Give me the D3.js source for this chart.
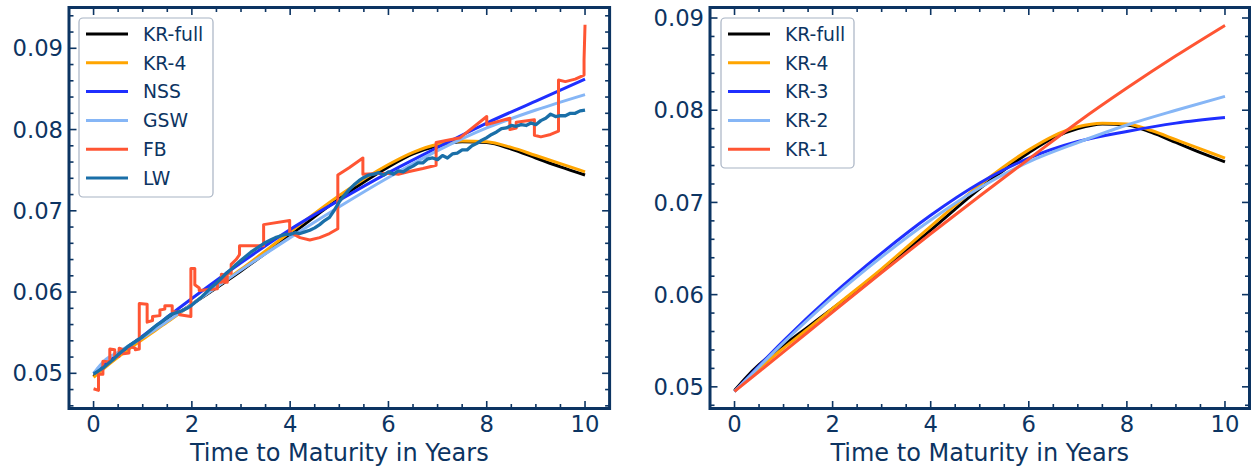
<!DOCTYPE html>
<html><head><meta charset="utf-8">
<script src="https://cdn.jsdelivr.net/npm/d3@7/dist/d3.min.js"></script>
<style>body{margin:0;background:#fff}svg{display:block;font-family:"DejaVu Sans",sans-serif}</style>
</head><body><svg id="c" width="1251" height="469"></svg>
<script>
// ---------- data ----------
const xTicks = [0, 2, 4, 6, 8, 10];
const yTicksLeft = [0.05, 0.06, 0.07, 0.08, 0.09];
const yTicksRight = [0.05, 0.06, 0.07, 0.08, 0.09];
const xLabel = "Time to Maturity in Years";

const krGrid = [0, 0.25, 0.5, 1, 1.5, 2, 3, 4, 5, 6, 6.5, 7, 7.5, 8, 8.5, 9, 9.5, 10];
const krFull = [0.0496, 0.0511, 0.0524, 0.0545, 0.0565, 0.0585, 0.0626, 0.0670, 0.0715, 0.0754, 0.0770, 0.0780, 0.0785, 0.0784, 0.0776, 0.0765, 0.0754, 0.0744];
const kr4 = [0.0495, 0.0508, 0.0520, 0.0542, 0.0563, 0.0585, 0.0628, 0.0674, 0.0719, 0.0757, 0.0772, 0.0782, 0.0786, 0.0785, 0.0778, 0.0768, 0.0758, 0.0748];

const yrs = [0, 1, 2, 3, 4, 5, 6, 7, 8, 9, 10];
const nss = [0.0500, 0.0546, 0.0592, 0.0636, 0.0677, 0.0713, 0.0747, 0.0778, 0.0808, 0.0835, 0.0862];
const gswGrid = [0, 0.25, 0.5, 0.75, 1, 2, 3, 4, 5, 6, 7, 8, 9, 10];
const gsw = [0.0500, 0.0517, 0.0526, 0.0535, 0.0544, 0.0585, 0.0627, 0.0667, 0.0705, 0.0741, 0.0774, 0.0802, 0.0824, 0.0843];

const fbX = [0,0.1,0.1,0.19,0.19,0.33,0.33,0.43,0.43,0.52,0.52,0.6,0.6,0.72,0.72,0.85,0.85,0.93,0.93,1.09,1.09,1.2,1.2,1.35,1.35,1.45,1.45,1.6,1.6,1.75,1.75,1.98,1.98,2.06,2.06,2.15,2.15,2.52,2.52,2.6,2.6,2.66,2.66,2.72,2.72,2.8,2.8,2.9,2.97,2.97,3.46,3.46,3.99,3.99,4.2,4.4,4.6,4.8,4.97,4.97,5.2,5.48,5.48,5.8,6.1,6.2,6.4,6.7,6.97,6.97,7.46,8.0,8.0,8.47,8.47,8.6,8.6,8.97,8.97,9.1,9.3,9.46,9.46,9.6,9.8,9.98,9.98,10];
const fbY = [0.0481,0.0479,0.0499,0.0499,0.0515,0.0514,0.0530,0.0529,0.0520,0.0521,0.0531,0.0529,0.0524,0.0525,0.0533,0.0531,0.0529,0.0530,0.0586,0.0585,0.0563,0.0565,0.0570,0.0571,0.0578,0.0579,0.0583,0.0583,0.0576,0.0575,0.0572,0.0570,0.0629,0.0629,0.0609,0.0605,0.0602,0.0604,0.0612,0.0612,0.0622,0.0621,0.0612,0.0612,0.0623,0.0623,0.0634,0.0640,0.0646,0.0657,0.0657,0.0683,0.0688,0.0674,0.0667,0.0664,0.0667,0.0672,0.0678,0.0744,0.0753,0.0765,0.0745,0.0746,0.0746,0.0745,0.0748,0.0752,0.0756,0.0784,0.0790,0.0816,0.0806,0.0814,0.0800,0.0802,0.0809,0.0812,0.0793,0.0791,0.0794,0.0798,0.0861,0.0859,0.0862,0.0867,0.0886,0.0929];

const lwX = d3.range(0, 101).map(i => i / 10);
const lw = [0.0499,0.0503,0.0507,0.0512,0.0517,0.0523,0.0528,0.0533,0.0537,0.0541,
0.0545,0.0550,0.0555,0.0560,0.0564,0.0569,0.0573,0.0575,0.0577,0.0580,
0.0584,0.0589,0.0594,0.0600,0.0606,0.0611,0.0617,0.0623,0.0628,0.0634,
0.0639,0.0644,0.0649,0.0653,0.0657,0.0661,0.0664,0.0667,0.0669,0.0671,
0.0671,0.0673,0.0672,0.0674,0.0676,0.0679,0.0683,0.0688,0.0692,0.0701,
0.0711,0.0719,0.0726,0.0732,0.0737,0.0741,0.0744,0.0745,0.0747,0.0744,
0.0748,0.0745,0.0749,0.0748,0.0752,0.0755,0.0759,0.0759,0.0764,0.0765,
0.0763,0.0768,0.0765,0.0770,0.0771,0.0775,0.0775,0.0780,0.0783,0.0787,
0.0790,0.0794,0.0797,0.0801,0.0802,0.0805,0.0804,0.0806,0.0805,0.0808,
0.0806,0.0811,0.0814,0.0819,0.0816,0.0817,0.0817,0.0820,0.0820,0.0823,0.0824];

const kr3 = [0.0495, 0.0550, 0.0600, 0.0645, 0.0686, 0.0721, 0.0748, 0.0766, 0.0777, 0.0786, 0.0792];
const kr2 = [0.0495, 0.0548, 0.0597, 0.0641, 0.0681, 0.0716, 0.0744, 0.0765, 0.0784, 0.0800, 0.0815];
const kr1 = [0.0495, 0.0538, 0.0581, 0.0624, 0.0666, 0.0707, 0.0747, 0.0787, 0.0824, 0.0859, 0.0892];

const leftNames = ["KR-full", "KR-4", "NSS", "GSW", "FB", "LW"];
const rightNames = ["KR-full", "KR-4", "KR-3", "KR-2", "KR-1"];
const colors = {"KR-full":"#000000","KR-4":"#ffa500","NSS":"#1f2fff","GSW":"#86b6f6","FB":"#ff5533","LW":"#1a6fa8",
  "KR-3":"#1f2fff","KR-2":"#86b6f6","KR-1":"#ff5533"};

// ---------- drawing ----------
const navy = "#0c3462";
const svg = d3.select("#c");
const zip = (xs, ys) => xs.map((x, i) => [x, ys[i]]);

function panel(opts) {
  const {x0, x1, yTop, yBot, yDom, yTicks, series, names, legend, id} = opts;
  const x = d3.scaleLinear().domain([-0.5, 10.5]).range([x0, x1]);
  const y = d3.scaleLinear().domain(yDom).range([yBot, yTop]);
  const g = svg.append("g");
  g.append("clipPath").attr("id", id).append("rect")
    .attr("x", x0).attr("y", yTop).attr("width", x1 - x0).attr("height", yBot - yTop);
  const lines = g.append("g").attr("clip-path", `url(#${id})`);
  series.forEach(s => {
    const line = d3.line().x(d => x(d[0])).y(d => y(d[1]));
    if (s.smooth) line.curve(d3.curveMonotoneX);
    lines.append("path").datum(s.pts).attr("d", line)
      .attr("fill", "none").attr("stroke", colors[s.name]).attr("stroke-width", s.w || 3)
      .attr("stroke-linejoin", "round").attr("stroke-linecap", "butt");
  });
  // ticks inward on all sides
  const xMinor = d3.range(-0.5, 10.51, 0.5);
  const yMinor = d3.range(Math.ceil(yDom[0] / 0.002) * 0.002, yDom[1], 0.002);
  const tg = g.append("g").attr("stroke", navy);
  const isMajX = v => Math.abs(v - Math.round(v / 2) * 2) < 1e-6;
  xMinor.forEach(v => {
    const L = isMajX(v) ? 7.5 : 4.5;
    tg.append("line").attr("x1", x(v)).attr("x2", x(v)).attr("y1", yBot).attr("y2", yBot - L).attr("stroke-width", 1.6);
    tg.append("line").attr("x1", x(v)).attr("x2", x(v)).attr("y1", yTop).attr("y2", yTop + L).attr("stroke-width", 1.6);
  });
  yMinor.forEach(v => {
    const maj = Math.abs(v * 100 - Math.round(v * 100)) < 1e-6;
    const L = maj ? 7.5 : 4.5;
    tg.append("line").attr("y1", y(v)).attr("y2", y(v)).attr("x1", x0).attr("x2", x0 + L).attr("stroke-width", 1.6);
    tg.append("line").attr("y1", y(v)).attr("y2", y(v)).attr("x1", x1).attr("x2", x1 - L).attr("stroke-width", 1.6);
  });
  // frame
  g.append("rect").attr("x", x0).attr("y", yTop).attr("width", x1 - x0).attr("height", yBot - yTop)
    .attr("fill", "none").attr("stroke", navy).attr("stroke-width", 3);
  // tick labels
  xTicks.forEach(v => g.append("text").attr("x", x(v)).attr("y", yBot + 23).attr("text-anchor", "middle")
    .attr("font-size", 22.7).attr("fill", navy).text(v));
  yTicks.forEach(v => g.append("text").attr("x", x0 - 6).attr("y", y(v)).attr("dy", "0.36em").attr("text-anchor", "end")
    .attr("font-size", 22.7).attr("fill", navy).text(d3.format(".2f")(v)));
  g.append("text").attr("x", (x0 + x1) / 2).attr("y", 461).attr("text-anchor", "middle")
    .attr("font-size", 24).attr("fill", navy).text(xLabel);
  // legend
  const lg = g.append("g");
  lg.append("rect").attr("x", legend.x).attr("y", legend.y).attr("width", legend.w).attr("height", legend.h)
    .attr("rx", 4).attr("fill", "#fff").attr("fill-opacity", 0.85).attr("stroke", "#a8b3c3").attr("stroke-width", 1.2);
  names.forEach((n, i) => {
    const cy = legend.y + 16 + i * 28.8;
    lg.append("line").attr("x1", legend.x + 7).attr("x2", legend.x + 49).attr("y1", cy).attr("y2", cy)
      .attr("stroke", colors[n]).attr("stroke-width", 3);
    lg.append("text").attr("x", legend.x + 64).attr("y", cy).attr("dy", "0.36em")
      .attr("font-size", 18.8).attr("fill", navy).text(n);
  });
}

panel({
  id: "clipL", x0: 69, x1: 609.6, yTop: 7.5, yBot: 408.5, yDom: [0.04567, 0.09502], yTicks: yTicksLeft,
  names: leftNames, legend: {x: 79, y: 18, w: 134, h: 179},
  series: [
    {name: "KR-full", pts: zip(krGrid, krFull), smooth: true},
    {name: "KR-4", pts: zip(krGrid, kr4), smooth: true},
    {name: "NSS", pts: zip(yrs, nss), smooth: true},
    {name: "GSW", pts: zip(gswGrid, gsw), smooth: true},
    {name: "FB", pts: zip(fbX, fbY)},
    {name: "LW", pts: zip(lwX, lw), w: 3.3}
  ]
});
panel({
  id: "clipR", x0: 710, x1: 1249.5, yTop: 7.5, yBot: 408.5, yDom: [0.04765, 0.09114], yTicks: yTicksRight,
  names: rightNames, legend: {x: 721, y: 18, w: 133, h: 150},
  series: [
    {name: "KR-full", pts: zip(krGrid, krFull), smooth: true},
    {name: "KR-4", pts: zip(krGrid, kr4), smooth: true},
    {name: "KR-3", pts: zip(yrs, kr3), smooth: true},
    {name: "KR-2", pts: zip(yrs, kr2), smooth: true},
    {name: "KR-1", pts: zip(yrs, kr1), smooth: true}
  ]
});
</script></body></html>
